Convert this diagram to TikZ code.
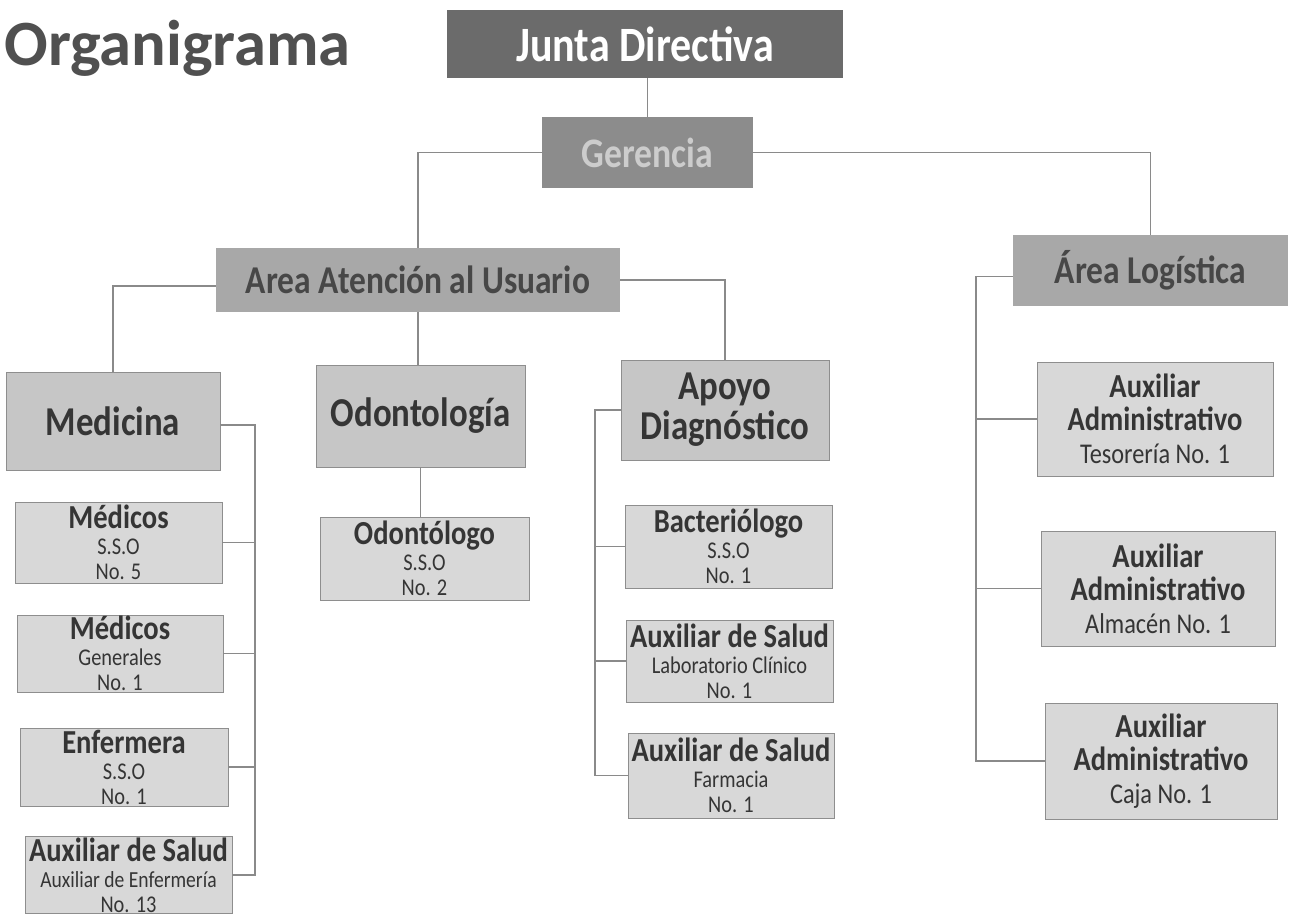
\documentclass[tikz,border=0pt]{standalone}
\usepackage{fontspec}
\setmainfont{Carlito}
\newfontfamily\cf[FakeStretch=0.85]{Carlito}
\definecolor{cjd}{HTML}{6B6B6B}
\definecolor{cger}{HTML}{8C8C8C}
\definecolor{carea}{HTML}{A8A8A8}
\definecolor{cdep}{HTML}{C6C6C6}
\definecolor{cleaf}{HTML}{D8D8D8}
\definecolor{cbord}{HTML}{8E8E8E}
\definecolor{clin}{HTML}{8A8A8A}
\definecolor{ctxt}{HTML}{353535}
\definecolor{ctitle}{HTML}{505050}
\begin{document}
\begin{tikzpicture}[x=0.5pt,y=-0.5pt,
  box/.style={rectangle, inner sep=0pt, align=center},
  sz/.style 2 args={minimum width=#1, minimum height=#2},
  jdbox/.style={box, fill=cjd, text=white, font=\cf\bfseries\fontsize{24.7}{26}\selectfont},
  gerbox/.style={box, fill=cger, text=black!20, font=\cf\bfseries\fontsize{21}{22}\selectfont},
  areabox/.style={box, fill=carea, text=black!72, font=\cf\bfseries\fontsize{19.7}{21}\selectfont},
  depbox/.style={box, fill=cdep, draw=cbord, line width=0.4pt, text=ctxt, font=\cf\bfseries\fontsize{20.5}{20}\selectfont},
  leafbox/.style={box, fill=cleaf, draw=cbord, line width=0.4pt, text=ctxt, font=\cf\fontsize{12}{12.5}\selectfont},
  admbox/.style={box, fill=cleaf, draw=cbord, line width=0.4pt, text=ctxt, font=\cf\fontsize{14.3}{16.5}\selectfont},
  ln/.style={draw=clin, line width=0.75pt}
]
\fill[white] (0,0) rectangle (1290,916);
\useasboundingbox (0,0) rectangle (1290,916);

\newcommand\lt[1]{{\bfseries\fontsize{16.8}{17}\selectfont #1}}

% title
\node[anchor=base west, inner sep=0pt, text=ctitle, font=\bfseries\fontsize{32.3}{34}\selectfont] (ttl) at (4,65) {Organigrama};

% top levels
\node[jdbox, sz={198pt}{34pt}] (jd) at (645,44) {Junta Directiva};
\node[gerbox, sz={105.5pt}{35.5pt}] (ger) at (647.5,152.5) {Gerencia};
\node[areabox, sz={202pt}{32pt}] (area) at (418,280) {Area Atención al Usuario};
\node[areabox, sz={137.5pt}{35.5pt}] (log) at (1150.5,270.5) {Área Logística};

% departments
\node[depbox, sz={107pt}{49pt}] (med) at (113,421) {Medicina};
\node[depbox, sz={104.5pt}{51pt}] (odo) at (420.5,416) {Odontología};
\node[depbox, sz={104pt}{50pt}] (apo) at (725,410) {Apoyo\\Diagnóstico};

% medicina leaves
\node[leafbox, sz={103.5pt}{40.5pt}] (mss) at (118.5,542.5) {\lt{Médicos}\\[0.5pt]S.S.O\\No. 5};
\node[leafbox, sz={103pt}{38.5pt}] (mge) at (120,653.5) {\lt{Médicos}\\[0.5pt]Generales\\No. 1};
\node[leafbox, sz={104pt}{39pt}] (enf) at (124,767) {\lt{Enfermera}\\[0.5pt]S.S.O\\No. 1};
\node[leafbox, sz={103.5pt}{38.5pt}] (aux) at (128.5,875) {\lt{Auxiliar de Salud}\\[0.5pt]{\fontsize{11.5}{12}\selectfont Auxiliar de Enfermería}\\No. 13};

% odontologia leaf
\node[leafbox, sz={104.5pt}{41.5pt}] (odl) at (424.5,558.5) {\lt{Odontólogo}\\[0.5pt]S.S.O\\No. 2};

% apoyo leaves
\node[leafbox, sz={103.5pt}{41.5pt}] (bac) at (728.5,546.5) {\lt{Bacteriólogo}\\[0.5pt]S.S.O\\No. 1};
\node[leafbox, sz={103.5pt}{41pt}] (lab) at (729.5,661) {\lt{Auxiliar de Salud}\\[0.5pt]Laboratorio Clínico\\No. 1};
\node[leafbox, sz={103pt}{42.5pt}] (far) at (731,775.5) {\lt{Auxiliar de Salud}\\[0.5pt]Farmacia\\No. 1};

% logistica leaves
\node[admbox, sz={118pt}{57pt}] (tes) at (1155,419) {\lt{Auxiliar}\\\lt{Administrativo}\\Tesorería No. 1};
\node[admbox, sz={117pt}{57.5pt}] (alm) at (1158,588.5) {\lt{Auxiliar}\\\lt{Administrativo}\\Almacén No. 1};
\node[admbox, sz={116pt}{58pt}] (caj) at (1161,761) {\lt{Auxiliar}\\\lt{Administrativo}\\Caja No. 1};

% bus coordinates
\coordinate (mb) at (255,0);
\coordinate (ab) at (595,0);
\coordinate (lb) at (976,0);

% connectors
\draw[ln] (ger.north) -- (ger.north |- jd.south);
\draw[ln] (ger.west) -| (area.north);
\draw[ln] (ger.east) -| (log.north);
\draw[ln] ([yshift=-3pt]area.west) -| (med.north);
\draw[ln] (area.south) -- (area.south |- odo.north);
\draw[ln] (area.east) -| (apo.north);
\draw[ln] (odo.south) -- (odo.south |- odl.north);

\draw[ln] ([yshift=-2pt]med.east) -| (mb |- aux.east) -- (aux.east);
\draw[ln] (mss.east) -- (mss.east -| mb);
\draw[ln] (mge.east) -- (mge.east -| mb);
\draw[ln] (enf.east) -- (enf.east -| mb);

\draw[ln] (apo.west) -| (ab |- far.west) -- (far.west);
\draw[ln] (bac.west) -- (bac.west -| ab);
\draw[ln] (lab.west) -- (lab.west -| ab);

\draw[ln] ([yshift=-3pt]log.west) -| (lb |- caj.west) -- (caj.west);
\draw[ln] (tes.west) -- (tes.west -| lb);
\draw[ln] (alm.west) -- (alm.west -| lb);
\end{tikzpicture}
\end{document}
